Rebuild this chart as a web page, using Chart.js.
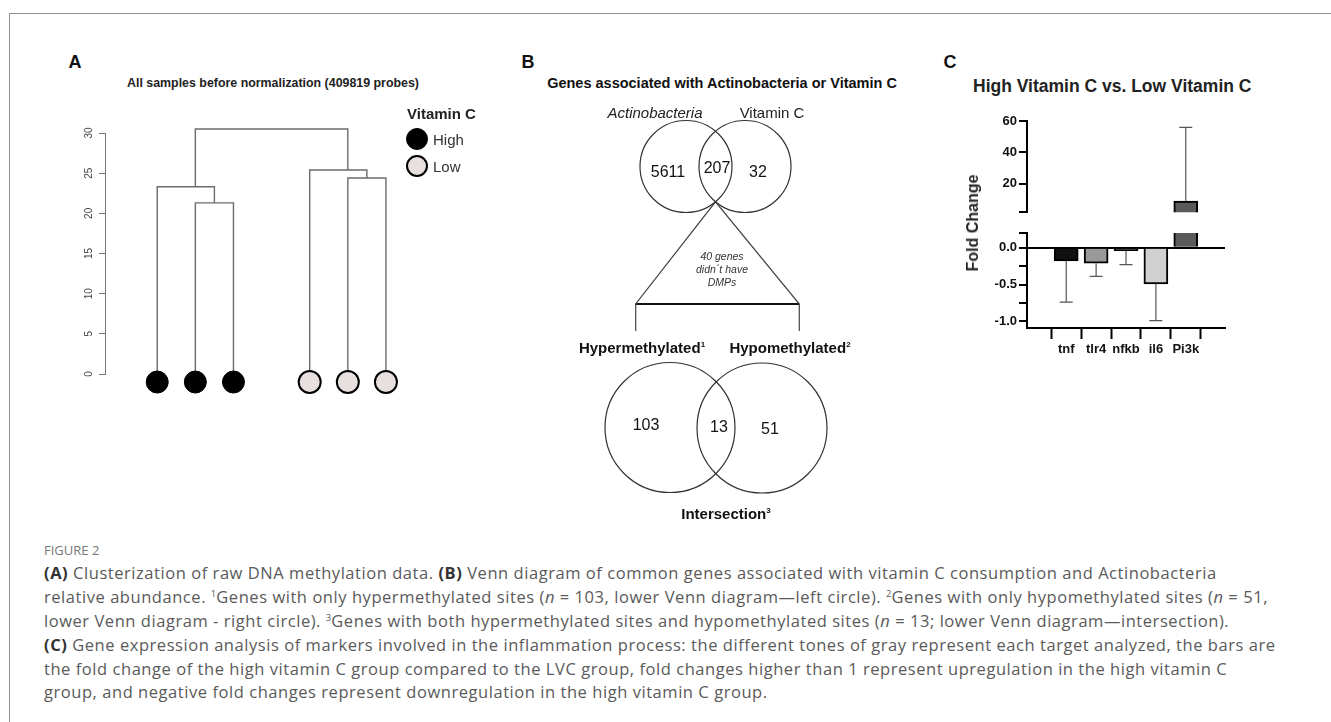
<!DOCTYPE html>
<html>
<head>
<meta charset="utf-8">
<script src="https://cdn.jsdelivr.net/npm/chart.js@4.4.1/dist/chart.umd.min.js"></script>
<style>
  body { margin: 0; width: 1331px; height: 722px; background: #fff; position: relative; overflow: hidden;
         font-family: "Liberation Sans", Arial, sans-serif; color: #111; }
  .frame { position: absolute; left: 9px; top: 13px; width: 1400px; height: 800px;
           border-left: 1px solid #8e8e8e; border-top: 1px solid #8e8e8e; }
  .t { position: absolute; white-space: nowrap; transform: translate(-50%, -50%); line-height: 1; }
  .l { position: absolute; white-space: nowrap; transform: translate(0, -50%); line-height: 1; }
  canvas { position: absolute; }
  .cap { position: absolute; left: 44px; white-space: nowrap; transform: translate(0, -50%);
         font-family: "Open Sans", sans-serif; font-size: 16.5px; letter-spacing: 0.55px;
         color: #5a5a5a; line-height: 1; }
  .cap b { color: #333; }
  .cap sup { font-size: 9.5px; vertical-align: 6px; line-height: 0; letter-spacing: 0; }
  .dot { position: absolute; width: 22px; height: 22px; border-radius: 50%; box-sizing: border-box;
         transform: translate(-50%, -50%); }
</style>
</head>
<body>
<div class="frame"></div>

<canvas id="dendro" width="360" height="290" style="left:50px;top:120px"></canvas>
<canvas id="venn" width="330" height="440" style="left:540px;top:95px"></canvas>
<canvas id="upperBars" width="280" height="112" style="left:960px;top:110px"></canvas>
<canvas id="lowerBars" width="280" height="150" style="left:960px;top:222px"></canvas>

<div class="l" style="left:44px;top:550px;font-family:'Open Sans',sans-serif;font-size:13px;color:#777">FIGURE 2</div>
<div class="cap" style="top:573px"><b>(A)</b> Clusterization of raw DNA methylation data. <b>(B)</b> Venn diagram of common genes associated with vitamin C consumption and Actinobacteria</div>
<div class="cap" style="top:597px">relative abundance. <sup>1</sup>Genes with only hypermethylated sites (<i>n</i> = 103, lower Venn diagram—left circle). <sup>2</sup>Genes with only hypomethylated sites (<i>n</i> = 51,</div>
<div class="cap" style="top:621px">lower Venn diagram - right circle). <sup>3</sup>Genes with both hypermethylated sites and hypomethylated sites (<i>n</i> = 13; lower Venn diagram—intersection).</div>
<div class="cap" style="top:645px"><b>(C)</b> Gene expression analysis of markers involved in the inflammation process: the different tones of gray represent each target analyzed, the bars are</div>
<div class="cap" style="top:669px">the fold change of the high vitamin C group compared to the LVC group, fold changes higher than 1 represent upregulation in the high vitamin C</div>
<div class="cap" style="top:692px">group, and negative fold changes represent downregulation in the high vitamin C group.</div>

<script>
// ---- panel A: clustering (R hclust style merge table)
const leafGroup = ['High', 'High', 'High', 'Low', 'Low', 'Low'];
const leafPos = [1, 2, 3, 5, 6, 7];
const leafY = -1;
const mergeA = [-2, -1, -5, -4, 2];
const mergeB = [-3, 1, -6, 3, 4];
const mergeHeight = [21.3, 23.3, 24.4, 25.4, 30.5];
const dendroTicks = [0, 5, 10, 15, 20, 25, 30];
const groupColor = { High: '#000000', Low: '#e8dfdf' };

// ---- panel B: venn counts
const upperSets = ['Actinobacteria', 'Vitamin C'];
const upperCounts = [5611, 207, 32];
const genesWithoutDMPs = 40;
const lowerSets = ['Hypermethylated', 'Hypomethylated'];
const lowerCounts = [103, 13, 51];

// ---- panel C: fold change
const genes = ['tnf', 'tlr4', 'nfkb', 'il6', 'Pi3k'];
const foldChange = [-0.18, -0.21, -0.04, -0.49, 9];
const errorEnd = [-0.74, -0.39, -0.23, -0.99, 56];
const barColors = ['#111111', '#9a9a9a', '#3a3a3a', '#d0d0d0', '#5a5a5a'];
const upperTicks = [2, 20, 40, 60];
const upperLabels = ['', '20', '40', '60'];
const lowerTicks = [-1, -0.75, -0.5, -0.25, 0, 0.2];
const lowerLabels = ['-1.0', '', '-0.5', '', '0.0', ''];

const FONT = '"Liberation Sans", Arial, sans-serif';

function put(html, x, y, css, anchor) {
  const d = document.createElement('div');
  d.className = anchor === 'left' ? 'l' : 't';
  d.style.cssText = 'left:' + x + 'px;top:' + y + 'px;' + (css || '');
  d.innerHTML = html;
  document.body.appendChild(d);
  return d;
}

// texts
put('A', 75, 62, 'font-size:18px;font-weight:bold');
put('B', 528, 62, 'font-size:18px;font-weight:bold');
put('C', 950, 62, 'font-size:18px;font-weight:bold');
put('All samples before normalization (409819 probes)', 273, 83, 'font-size:12.4px;font-weight:bold;color:#222');
put('Genes associated with Actinobacteria or Vitamin C', 722, 83, 'font-size:14.5px;font-weight:bold;color:#111');
put('High Vitamin C vs. Low Vitamin C', 973, 87, 'font-size:17.5px;font-weight:bold;color:#222', 'left');

// legend A
put('Vitamin C', 407, 113, 'font-size:15px;font-weight:bold;color:#222', 'left');
['High', 'Low'].forEach((g, i) => {
  const d = document.createElement('div');
  d.className = 'dot';
  d.style.cssText = 'left:417px;top:' + (139 + i * 27) + 'px;background:' + groupColor[g] +
    ';border:' + (g === 'Low' ? '2px' : '1px') + ' solid #000';
  document.body.appendChild(d);
  put(g, 433, 139 + i * 27, 'font-size:15px;color:#333', 'left');
});

// dendrogram geometry
const nodes = [];
function node(ref) {
  if (ref < 0) return { x: leafPos[-ref - 1], y: leafY, members: [leafPos[-ref - 1]] };
  return nodes[ref - 1];
}
mergeHeight.forEach((h, m) => {
  const a = node(mergeA[m]), b = node(mergeB[m]);
  const members = a.members.concat(b.members);
  nodes.push({
    x: members.reduce((s, v) => s + v, 0) / members.length, y: h, members,
    path: [{ x: a.x, y: a.y }, { x: a.x, y: h }, { x: b.x, y: h }, { x: b.x, y: b.y }]
  });
});

const rotatedTicks = {
  id: 'rotatedTicks',
  afterDraw(chart) {
    const s = chart.scales.y, ctx = chart.ctx;
    ctx.save();
    ctx.font = '10px ' + FONT;
    ctx.fillStyle = '#444';
    ctx.textAlign = 'center';
    ctx.textBaseline = 'middle';
    dendroTicks.forEach(v => {
      ctx.save();
      ctx.translate(s.right - 16, s.getPixelForValue(v));
      ctx.rotate(-Math.PI / 2);
      ctx.fillText(String(v), 0, 0);
      ctx.restore();
    });
    ctx.restore();
  }
};

new Chart(document.getElementById('dendro'), {
  type: 'scatter',
  data: {
    datasets: [{
      data: leafPos.map(x => ({ x, y: leafY })),
      pointRadius: 11,
      pointBackgroundColor: leafGroup.map(g => groupColor[g]),
      pointBorderColor: '#000',
      pointBorderWidth: leafGroup.map(g => g === 'Low' ? 2 : 1),
      showLine: false,
      clip: false
    }].concat(nodes.map(n => ({
      data: n.path,
      showLine: true,
      borderColor: '#6b6b6b',
      borderWidth: 1.4,
      pointRadius: 0,
      clip: false
    })))
  },
  options: {
    responsive: false, animation: false, events: [],
    layout: { padding: { top: 12, bottom: 36, right: 10, left: 0 } },
    plugins: { legend: { display: false }, tooltip: { enabled: false } },
    scales: {
      x: { type: 'linear', display: false, min: -0.37, max: 7.29 },
      y: {
        min: 0, max: 30,
        afterBuildTicks: s => { s.ticks = dendroTicks.map(v => ({ value: v })); },
        afterFit: s => { s.width = 55; },
        ticks: { display: false },
        grid: { drawOnChartArea: false, tickLength: 6, color: '#777' },
        border: { color: '#777', width: 1 }
      }
    }
  },
  plugins: [rotatedTicks]
});

// ---- panel B: venn diagram in canvas units
const vennLayout = {
  upper: [{ x: 146, y: 71.5, r: 46 }, { x: 205, y: 71.5, r: 46 }],
  lower: [{ x: 130, y: 332.5, r: 65 }, { x: 222, y: 333, r: 65 }],
  baseY: 209, baseLeft: 95.7, baseRight: 259.3, legBottom: 236
};
const circles = vennLayout.upper.concat(vennLayout.lower);
const [c1, c2] = vennLayout.upper;
const half = (c2.x - c1.x) / 2;
const apex = { x: c1.x + half, y: c1.y + Math.sqrt(c1.r * c1.r - half * half) };

new Chart(document.getElementById('venn'), {
  type: 'scatter',
  data: {
    datasets: [{
      data: circles.map(c => ({ x: c.x, y: c.y })),
      pointRadius: ctx => {
        const sx = ctx.chart.scales.x;
        return circles[ctx.dataIndex].r * (sx.getPixelForValue(100) - sx.getPixelForValue(0)) / 100;
      },
      pointBackgroundColor: 'rgba(0,0,0,0)',
      pointBorderColor: '#333',
      pointBorderWidth: 1.2,
      showLine: false, clip: false
    }, {
      data: [
        { x: vennLayout.baseLeft, y: vennLayout.legBottom },
        { x: vennLayout.baseLeft, y: vennLayout.baseY },
        apex,
        { x: vennLayout.baseRight, y: vennLayout.baseY },
        { x: vennLayout.baseRight, y: vennLayout.legBottom }
      ],
      showLine: true, borderColor: '#444', borderWidth: 1.2, pointRadius: 0, clip: false
    }, {
      data: [{ x: vennLayout.baseLeft, y: vennLayout.baseY }, { x: vennLayout.baseRight, y: vennLayout.baseY }],
      showLine: true, borderColor: '#111', borderWidth: 1.8, pointRadius: 0, clip: false
    }]
  },
  options: {
    responsive: false, animation: false, events: [],
    layout: { padding: 0 },
    plugins: { legend: { display: false }, tooltip: { enabled: false } },
    scales: {
      x: { type: 'linear', display: false, min: 0, max: 330 },
      y: { type: 'linear', display: false, min: 0, max: 440, reverse: true }
    }
  }
});

// venn labels (page coordinates)
put('<i>' + upperSets[0] + '</i>', 655, 112, 'font-size:15px;color:#222');
put(upperSets[1], 772, 112, 'font-size:15px;color:#222');
put(upperCounts[0], 668, 172, 'font-size:16px;color:#111');
put(upperCounts[1], 717, 168, 'font-size:16px;color:#111');
put(upperCounts[2], 758, 172, 'font-size:16px;color:#111');
put(genesWithoutDMPs + ' genes<br>didn´t have<br>DMPs', 722, 269,
  'font-size:10.5px;font-style:italic;color:#333;text-align:center;line-height:12.8px');
put(lowerSets[0] + '<sup style="font-size:8px">1</sup>', 642, 347, 'font-size:15px;font-weight:bold;color:#111');
put(lowerSets[1] + '<sup style="font-size:8px">2</sup>', 790, 347, 'font-size:15px;font-weight:bold;color:#111');
put(lowerCounts[0], 646, 425, 'font-size:16px;color:#111');
put(lowerCounts[1], 719, 427, 'font-size:16px;color:#111');
put(lowerCounts[2], 770, 429, 'font-size:16px;color:#111');
put('Intersection<sup style="font-size:8px">3</sup>', 726, 513, 'font-size:15px;font-weight:bold;color:#111');

// ---- panel C: broken-axis bar chart (two stacked charts)
put('Fold Change', 973, 223, 'font-size:16px;font-weight:bold;color:#222;transform:translate(-50%,-50%) rotate(-90deg)');

const errorBars = {
  id: 'errorBars',
  afterDatasetsDraw(chart) {
    const { ctx, chartArea: a, scales: { x, y } } = chart;
    ctx.save();
    ctx.beginPath();
    ctx.rect(a.left, a.top, a.width, a.height);
    ctx.clip();
    ctx.strokeStyle = '#555';
    ctx.lineWidth = 1.2;
    foldChange.forEach((v, i) => {
      const px = x.getPixelForValue(i);
      const y0 = y.getPixelForValue(v), y1 = y.getPixelForValue(errorEnd[i]);
      ctx.beginPath();
      ctx.moveTo(px, y0);
      ctx.lineTo(px, y1);
      ctx.moveTo(px - 6.5, y1);
      ctx.lineTo(px + 6.5, y1);
      ctx.stroke();
    });
    ctx.restore();
  }
};

function barChart(id, yMin, yMax, yTicks, yLabels, showX, padding) {
  return new Chart(document.getElementById(id), {
    type: 'bar',
    data: {
      datasets: [{
        data: genes.map((g, i) => ({ x: i, y: foldChange[i] })),
        backgroundColor: barColors,
        borderColor: '#000',
        borderWidth: 2,
        barThickness: 24,
        clip: 0
      }]
    },
    options: {
      responsive: false, animation: false, events: [],
      layout: { padding },
      plugins: { legend: { display: false }, tooltip: { enabled: false } },
      scales: {
        x: {
          type: 'linear', min: -0.65, max: 4.65, display: showX,
          afterBuildTicks: s => { s.ticks = genes.map((g, i) => ({ value: i })); },
          afterFit: s => { s.height = showX ? 44 : 0; },
          ticks: { callback: v => genes[v], autoSkip: false, maxRotation: 0, padding: 3,
                   color: '#111', font: { family: FONT, size: 13, weight: 'bold' } },
          grid: { drawOnChartArea: false, tickLength: 11, tickColor: '#000', tickWidth: 2 },
          border: { color: '#000', width: 2 }
        },
        y: {
          min: yMin, max: yMax,
          afterBuildTicks: s => { s.ticks = yTicks.map(v => ({ value: v })); },
          afterFit: s => { s.width = 67; },
          ticks: { callback: (v, i) => yLabels[i], autoSkip: false, padding: 2, color: '#111',
                   font: { family: FONT, size: 13, weight: 'bold' } },
          grid: {
            color: c => (c.tick && c.tick.value === 0) ? '#000' : 'rgba(0,0,0,0)',
            lineWidth: 2, tickLength: 8, tickColor: '#000', tickWidth: 2
          },
          border: { color: '#000', width: 2 }
        }
      }
    },
    plugins: [errorBars]
  });
}

barChart('upperBars', 2, 60, upperTicks, upperLabels, false, { top: 11, bottom: 5, right: 15, left: 0 });
barChart('lowerBars', -1.09, 0.2, lowerTicks, lowerLabels, true, { top: 11, bottom: 0, right: 15, left: 0 });
</script>
</body>
</html>
